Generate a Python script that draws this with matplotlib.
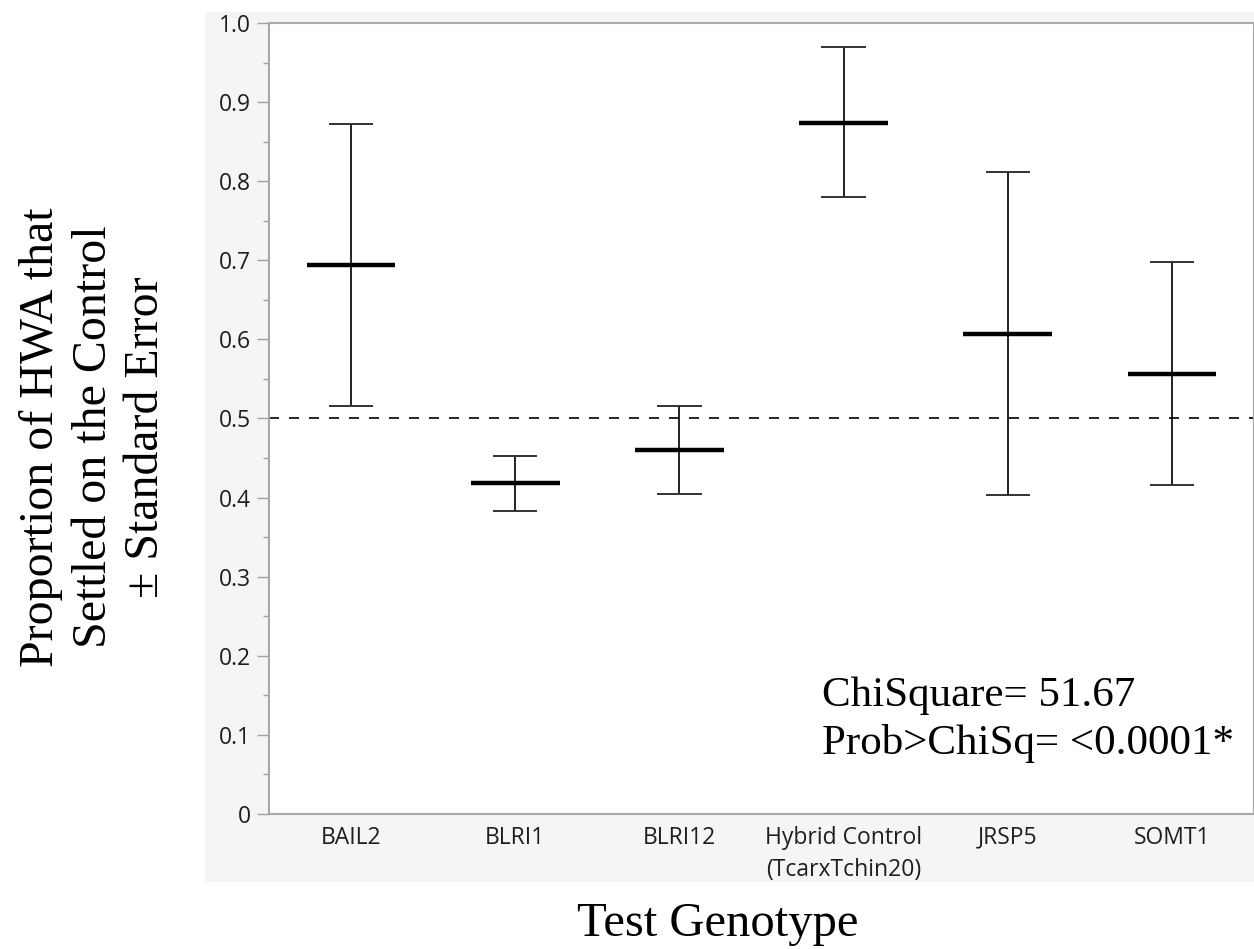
import matplotlib
matplotlib.use("Agg")
import matplotlib.pyplot as plt
from matplotlib.patches import Rectangle
from matplotlib.ticker import MultipleLocator, FuncFormatter

# data
genotypes = ["BAIL2", "BLRI1", "BLRI12", "Hybrid Control\n(TcarxTchin20)", "JRSP5", "SOMT1"]
means = [0.694, 0.418, 0.460, 0.874, 0.607, 0.556]
upper = [0.872, 0.453, 0.516, 0.970, 0.811, 0.698]
lower = [0.516, 0.383, 0.404, 0.780, 0.403, 0.416]

chi_text = ["ChiSquare= 51.67", "Prob>ChiSq= <0.0001*"]

W, H = 1254, 949
fig = plt.figure(figsize=(W / 100, H / 100), dpi=100)

# grey JMP frame behind the plot
fig.patches.append(Rectangle((205 / W, 1 - 882 / H), (W - 205) / W, (882 - 12) / H,
                             transform=fig.transFigure, facecolor="#f5f5f5",
                             edgecolor="none", zorder=-5))

ax = fig.add_axes([269 / W, 1 - 814 / H, (W - 269) / W, (814 - 23) / H])
ax.set_zorder(1)
ax.set_facecolor("white")

xs = list(range(len(genotypes)))
for x, m, lo, hi in zip(xs, means, lower, upper):
    ax.plot([x, x], [lo, hi], color="#222222", lw=1.4, solid_capstyle="butt")
    ax.plot([x - 0.135, x + 0.135], [lo, lo], color="#333333", lw=1.4, solid_capstyle="butt")
    ax.plot([x - 0.135, x + 0.135], [hi, hi], color="#333333", lw=1.4, solid_capstyle="butt")
    ax.plot([x - 0.27, x + 0.27], [m, m], color="black", lw=3.2, solid_capstyle="butt")

ax.axhline(0.5, color="black", lw=1.2, ls=(0, (6, 6)))

ax.set_xlim(-0.5, 5.5)
ax.set_ylim(0, 1.0)
ax.yaxis.set_major_locator(MultipleLocator(0.1))
ax.yaxis.set_minor_locator(MultipleLocator(0.05))
ax.yaxis.set_major_formatter(FuncFormatter(lambda v, p: "0" if abs(v) < 1e-9 else f"{v:.1f}"))
ax.set_xticks(xs)
ax.set_xticklabels(genotypes, fontfamily="Open Sans", fontsize=16.5, color="#1e1e1e",
                   linespacing=1.45)
for lab in ax.get_yticklabels():
    lab.set_fontfamily("Open Sans")
    lab.set_fontsize(16.5)
    lab.set_color("#1e1e1e")

ax.tick_params(axis="y", which="major", length=8.6, width=1, color="#a0a0a0", pad=4.5)
ax.tick_params(axis="y", which="minor", length=4.3, width=1, color="#a0a0a0")
ax.tick_params(axis="x", length=0, pad=8.5)
for sp in ax.spines.values():
    sp.set_color("#a8a8a8")
    sp.set_linewidth(1.5)

baselines = [706, 754]
for t, yb in zip(chi_text, baselines):
    fig.text(822 / W, 1 - yb / H, t, ha="left", va="baseline",
             fontfamily="Liberation Serif", fontsize=31, color="black", zorder=5)

fig.text(94 / W, 1 - 437 / H, "Proportion of HWA that\nSettled on the Control\n\u00b1 Standard Error",
         rotation=90, ha="center", va="center", multialignment="center",
         fontfamily="Liberation Serif", fontsize=34.5, linespacing=1.25)
fig.text(718 / W, 1 - 936 / H, "Test Genotype", ha="center", va="baseline",
         fontfamily="Liberation Serif", fontsize=35)

fig.savefig("out.png", dpi=100)
